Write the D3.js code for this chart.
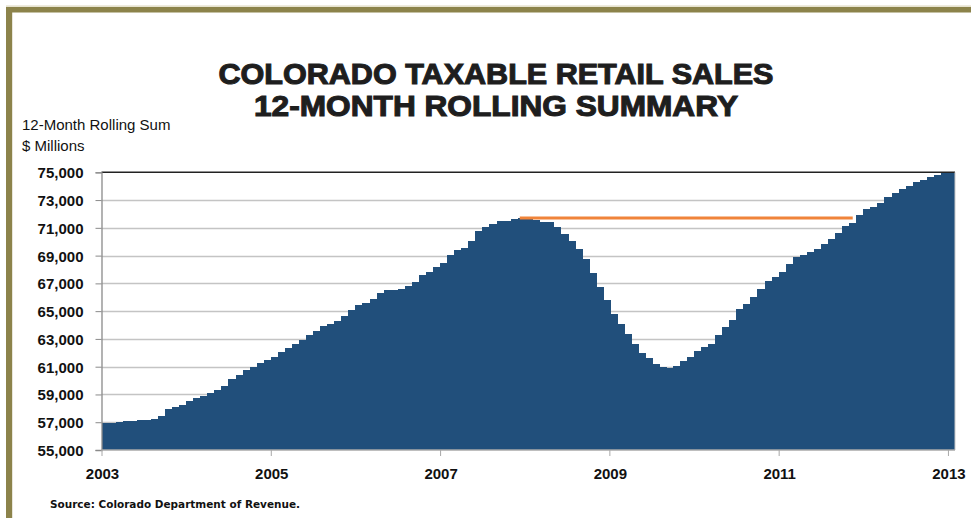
<!DOCTYPE html>
<html>
<head>
<meta charset="utf-8">
<script src="https://cdn.jsdelivr.net/npm/d3@7"></script>
<style>
  html, body { margin: 0; padding: 0; background: #ffffff; }
  svg { display: block; }
</style>
</head>
<body>
<svg id="chart" width="971" height="518"></svg>
<script>
// ---------- DATA ----------
const titleLines = ["COLORADO TAXABLE RETAIL SALES", "12-MONTH ROLLING SUMMARY"];
const axisTitleLines = ["12-Month Rolling Sum", "$ Millions"];
const sourceText = "Source: Colorado Department of Revenue.";

const startYear = 2003;
// Monthly 12-month rolling sum, $ millions, Jan 2003 .. Jan 2013
const values = [
  56940, 56970, 56990, 57060, 57110, 57130, 57160, 57230, 57420, 57950, 58070, 58210,
  58520, 58740, 58910, 59120, 59320, 59630, 60110, 60420, 60780, 60990, 61260, 61450,
  61720, 62070, 62380, 62660, 62950, 63260, 63570, 63910, 64080, 64320, 64680, 65050,
  65440, 65590, 65900, 66310, 66520, 66520, 66590, 66780, 67090, 67620, 67840, 68170,
  68490, 69070, 69410, 69550, 70080, 70740, 71070, 71310, 71480, 71480, 71620, 71680,
  71620, 71530, 71450, 71400, 71050, 70570, 70060, 69460, 68740, 67740, 66750, 65820,
  64830, 64040, 63360, 62640, 62020, 61590, 61210, 61000, 60880, 61070, 61380, 61670,
  62120, 62430, 62640, 63290, 63840, 64370, 65170, 65550, 66000, 66600, 67170, 67430,
  67850, 68390, 68900, 69070, 69290, 69500, 69820, 70180, 70610, 71150, 71370, 71940,
  72380, 72520, 72810, 73190, 73480, 73810, 74000, 74290, 74450, 74640, 74830, 75000,
  75050
];
const yTicks = [55000, 57000, 59000, 61000, 63000, 65000, 67000, 69000, 71000, 73000, 75000];
const xTickLabels = ["2003", "2005", "2007", "2009", "2011", "2013"];
// Previous-peak reference line (orange): from peak month to month it is regained
const peakLineValue = 71700;
const peakStartIndex = 59;
const peakEndIndex = 106;

// ---------- BUILD ----------
const months = values.map((v, i) => {
  const y = startYear + Math.floor(i / 12);
  const m = (i % 12) + 1;
  return y + "-" + String(m).padStart(2, "0");
});

const svg = d3.select("#chart");
const W = 971, H = 518;
const plot = { left: 101.5, right: 955, top: 172.3, bottom: 450 };

svg.append("rect").attr("width", W).attr("height", H).attr("fill", "#ffffff");

// frame (olive border)
const olive = "#8c834b";
svg.append("rect").attr("x", 6).attr("y", 5.5).attr("width", W - 6).attr("height", 1.2).attr("fill", "#ddd8bd");
svg.append("rect").attr("x", 6).attr("y", 7).attr("width", W - 6).attr("height", 5.5).attr("fill", olive);
svg.append("rect").attr("x", 6).attr("y", 7).attr("width", 6.2).attr("height", H - 7).attr("fill", olive);

// scales
const x = d3.scaleBand().domain(months).range([plot.left, plot.right]).padding(0);
const y = d3.scaleLinear().domain([55000, 75000]).range([plot.bottom, plot.top]).clamp(true);

// gridlines
svg.append("g")
  .selectAll("line")
  .data(yTicks.slice(1, -1))
  .join("line")
  .attr("x1", plot.left).attr("x2", plot.right)
  .attr("y1", d => Math.round(y(d)) + 0.5).attr("y2", d => Math.round(y(d)) + 0.5)
  .attr("stroke", "#c4c4c4").attr("stroke-width", 1.3);

// bars
svg.append("g")
  .attr("shape-rendering", "crispEdges")
  .selectAll("rect")
  .data(values)
  .join("rect")
  .attr("x", (d, i) => x(months[i]))
  .attr("width", (d, i) => i === values.length - 1 ? x.bandwidth() : x.bandwidth() + 1.5)
  .attr("y", d => y(d))
  .attr("height", d => plot.bottom - y(d))
  .attr("fill", "#214f7b");

// orange reference line
svg.append("line")
  .attr("x1", x(months[peakStartIndex]) + x.bandwidth() * 0.3)
  .attr("x2", x(months[peakEndIndex]) + x.bandwidth() * 0.5)
  .attr("y1", y(peakLineValue)).attr("y2", y(peakLineValue))
  .attr("stroke", "#f0843a").attr("stroke-width", 3);

// plot borders
svg.append("line").attr("x1", plot.left).attr("x2", plot.right)
  .attr("y1", plot.top).attr("y2", plot.top).attr("stroke", "#222").attr("stroke-width", 1.5);
svg.append("line").attr("x1", plot.right).attr("x2", plot.right)
  .attr("y1", plot.top).attr("y2", plot.bottom).attr("stroke", "#c8c8c8").attr("stroke-width", 1);

// y axis
const yAxis = d3.axisLeft(y).tickValues(yTicks).tickSize(6).tickPadding(12)
  .tickFormat(d3.format(",d"));
const gy = svg.append("g").attr("transform", `translate(${plot.left},0)`).call(yAxis);
gy.select(".domain").attr("stroke", "#8a8a8a").attr("stroke-width", 1.3);
gy.selectAll(".tick line").attr("stroke", "#8a8a8a");
gy.selectAll(".tick text")
  .attr("font-family", "'Liberation Sans', Arial, sans-serif")
  .attr("font-size", 15).attr("font-weight", "bold").attr("fill", "#111")
  .attr("dy", "0.36em");

// x axis (ticks at every 24 months, on left edge of January bars)
const tickIdx = xTickLabels.map(l => months.indexOf(l + "-01"));
const gx = svg.append("g");
gx.append("line").attr("x1", plot.left).attr("x2", plot.right)
  .attr("y1", plot.bottom).attr("y2", plot.bottom)
  .attr("stroke", "#a8a8a8").attr("stroke-width", 1.5);
gx.selectAll("line.tk").data(tickIdx).join("line").attr("class", "tk")
  .attr("x1", i => x(months[i]) + 0.5).attr("x2", i => x(months[i]) + 0.5)
  .attr("y1", plot.bottom).attr("y2", plot.bottom + 6)
  .attr("stroke", "#a8a8a8").attr("stroke-width", 1);
gx.selectAll("text").data(tickIdx).join("text")
  .attr("x", i => x(months[i]) + 1)
  .attr("y", 479)
  .attr("text-anchor", "middle")
  .attr("font-family", "'Liberation Sans', Arial, sans-serif")
  .attr("font-size", 15).attr("font-weight", "bold").attr("fill", "#111")
  .text((i, k) => xTickLabels[k]);

// title
const titleWidths = [555, 484];
svg.append("g").selectAll("text").data(titleLines).join("text")
  .attr("x", 496).attr("y", (d, i) => 84 + i * 31.5)
  .attr("text-anchor", "middle")
  .attr("font-family", "'Liberation Sans', Arial, sans-serif")
  .attr("font-size", 29).attr("font-weight", "bold")
  .attr("fill", "#1e1e1e").attr("stroke", "#1e1e1e").attr("stroke-width", 1.1)
  .attr("textLength", (d, i) => titleWidths[i]).attr("lengthAdjust", "spacingAndGlyphs")
  .text(d => d);

// axis title
svg.append("g").selectAll("text").data(axisTitleLines).join("text")
  .attr("x", 22).attr("y", (d, i) => 129.5 + i * 21.5)
  .attr("font-family", "'Liberation Sans', Arial, sans-serif")
  .attr("font-size", 15).attr("fill", "#111")
  .text(d => d);

// source
svg.append("text")
  .attr("x", 50).attr("y", 508)
  .attr("font-family", "'DejaVu Sans', Verdana, sans-serif")
  .attr("font-size", 10.5).attr("font-weight", "bold").attr("fill", "#111")
  .attr("textLength", 250).attr("lengthAdjust", "spacingAndGlyphs")
  .text(sourceText);
</script>
</body>
</html>
